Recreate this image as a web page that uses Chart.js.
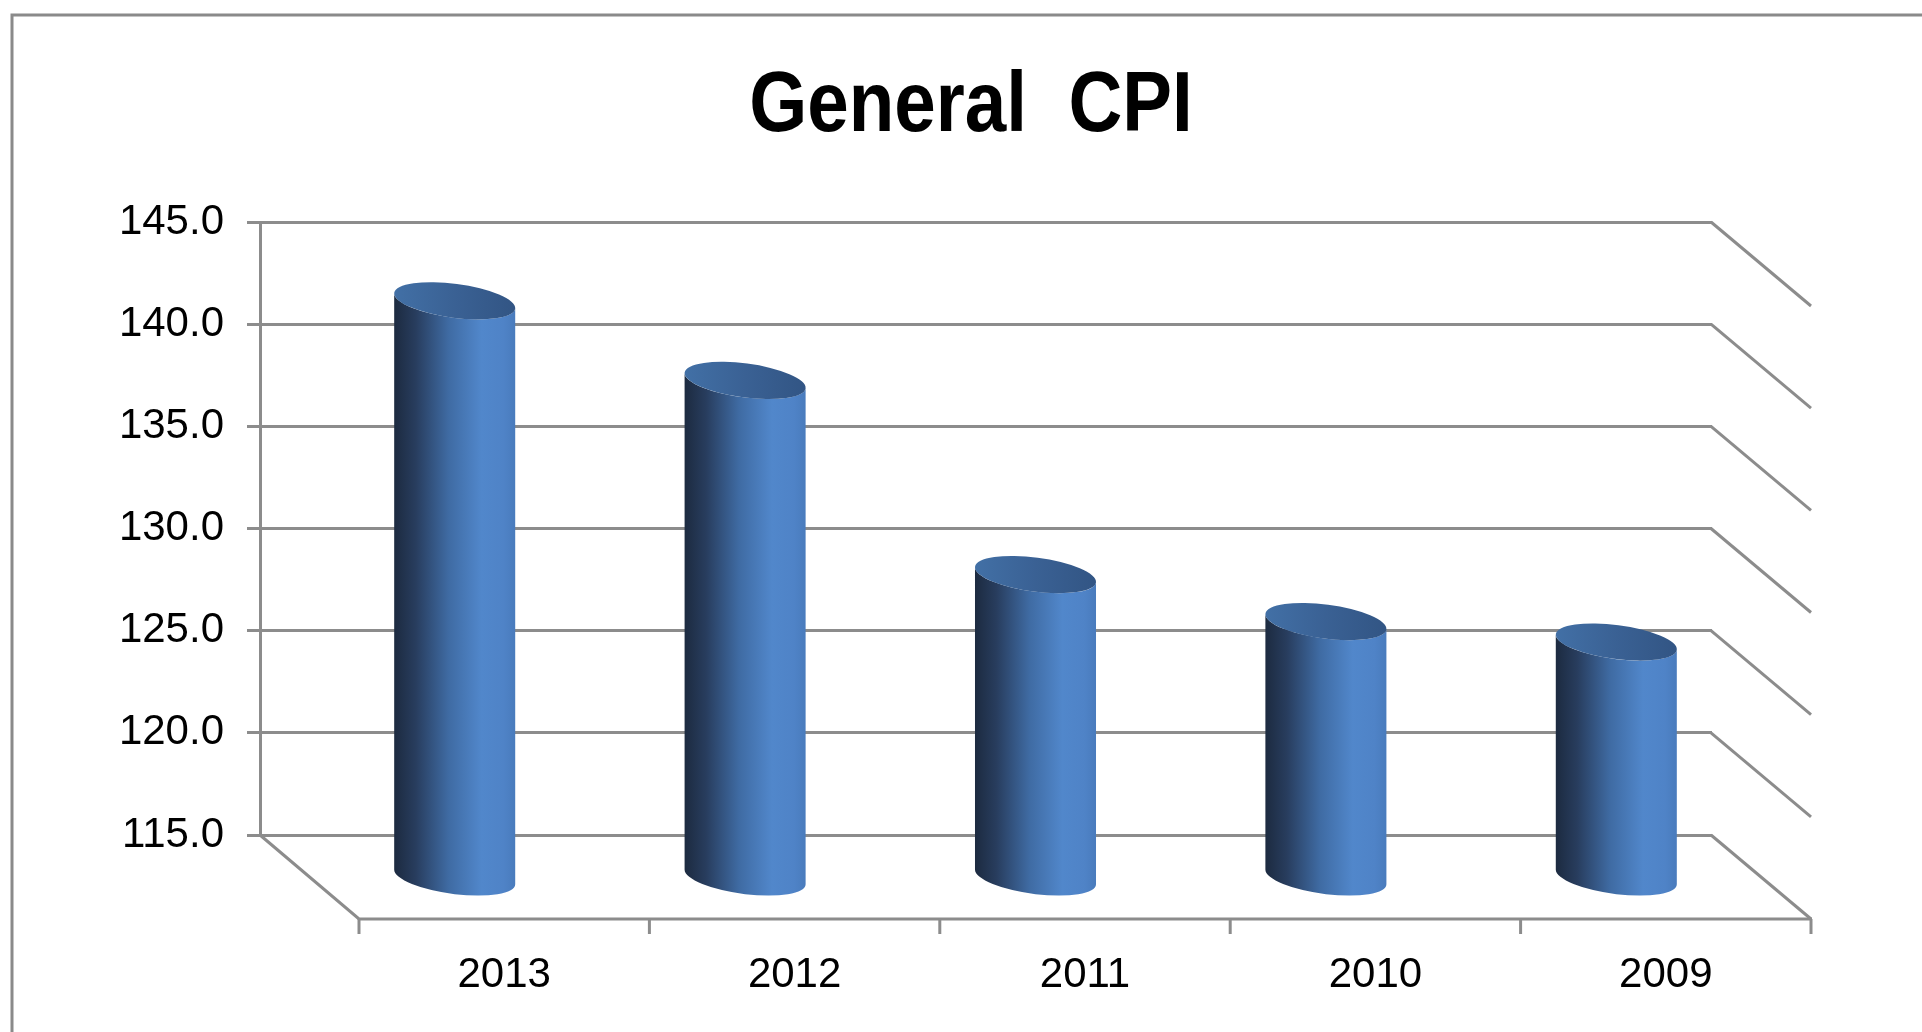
<!DOCTYPE html>
<html>
<head>
<meta charset="utf-8">
<title>General CPI</title>
<script src="https://cdn.jsdelivr.net/npm/chart.js@4.4.1/dist/chart.umd.min.js"></script>
<style>
  html, body { margin: 0; padding: 0; background: #fff; }
  #wrap { width: 1922px; height: 1032px; position: relative; }
</style>
</head>
<body>
<div id="wrap"><canvas id="cpiChart"></canvas></div>
<script>
// data
var years = ['2013', '2012', '2011', '2010', '2009'];
var cpiValues = [143.2, 139.3, 129.8, 127.5, 126.5];
var axisMin = 115;
var axisMax = 145;
var axisStep = 5;
var chartTitle = 'General  CPI';

// oblique depth of the 3-D box
var depthX = 99;
var depthY = 84;
var lineGrey = '#8c8c8c';

var pagePlugin = {
    id: 'pageDecor',
    beforeDraw: function(chart) {
        var ctx = chart.ctx;
        ctx.save();
        ctx.fillStyle = '#ffffff';
        ctx.fillRect(0, 0, chart.width, chart.height);
        // outer frame (top and left visible)
        ctx.strokeStyle = '#8a8a8a';
        ctx.lineWidth = 3;
        ctx.beginPath();
        ctx.moveTo(12, chart.height + 5);
        ctx.lineTo(12, 15);
        ctx.lineTo(chart.width + 5, 15);
        ctx.stroke();
        // title
        ctx.translate(971, 131);
        ctx.scale(0.867, 1);
        ctx.fillStyle = '#000';
        ctx.font = 'bold 86px "Liberation Sans", Arial, sans-serif';
        ctx.textAlign = 'center';
        ctx.textBaseline = 'alphabetic';
        ctx.fillText(chartTitle, 0, 0);
        ctx.restore();
    }
};

var boxPlugin = {
    id: 'box3d',
    beforeDatasetsDraw: function(chart) {
        var ctx = chart.ctx;
        var a = chart.chartArea;
        var x = chart.scales.x;
        var y = chart.scales.y;
        ctx.save();
        ctx.strokeStyle = lineGrey;
        ctx.lineWidth = 3;
        // side wall lines
        y.ticks.forEach(function(t) {
            var py = y.getPixelForValue(t.value);
            ctx.beginPath();
            ctx.moveTo(a.right - 1, py);
            ctx.lineTo(a.right + depthX, py + depthY);
            ctx.stroke();
        });
        // floor left edge and front edge
        ctx.beginPath();
        ctx.moveTo(a.left, a.bottom);
        ctx.lineTo(a.left + depthX, a.bottom + depthY);
        ctx.lineTo(a.right + depthX + 1, a.bottom + depthY);
        ctx.stroke();
        // category ticks on the front edge
        var step = x.getPixelForValue(1) - x.getPixelForValue(0);
        for (var i = 0; i <= years.length; i++) {
            var bx = x.getPixelForValue(0) - step / 2 + i * step + depthX;
            ctx.beginPath();
            ctx.moveTo(bx, a.bottom + depthY);
            ctx.lineTo(bx, a.bottom + depthY + 15);
            ctx.stroke();
        }
        ctx.restore();
    },
    afterDatasetsDraw: function(chart) {
        var ctx = chart.ctx;
        var x = chart.scales.x;
        var y = chart.scales.y;
        var step = x.getPixelForValue(1) - x.getPixelForValue(0);
        var rx = step * 0.21;
        var ry = 17;
        var rot = 0.13;
        var eps = Math.atan(-(ry / rx) * Math.tan(rot));
        function edge(cx, cy, t) {
            return [cx + rx * Math.cos(t) * Math.cos(rot) - ry * Math.sin(t) * Math.sin(rot),
                    cy + rx * Math.cos(t) * Math.sin(rot) + ry * Math.sin(t) * Math.cos(rot)];
        }
        cpiValues.forEach(function(v, i) {
            var cx = x.getPixelForValue(i) + depthX / 2;
            var topY = y.getPixelForValue(v) + depthY / 2;
            var botY = y.getPixelForValue(axisMin) + depthY / 2;
            var lt = edge(cx, topY, Math.PI + eps);
            var lb = edge(cx, botY, Math.PI + eps);
            var rt = edge(cx, topY, eps);

            ctx.save();
            var g = ctx.createLinearGradient(cx - rx, 0, cx + rx, 0);
            g.addColorStop(0, '#1c2a3f');
            g.addColorStop(0.18, '#283d5e');
            g.addColorStop(0.45, '#3f6ba3');
            g.addColorStop(0.72, '#5187cb');
            g.addColorStop(0.9, '#4f83c7');
            g.addColorStop(1, '#497bbc');
            ctx.fillStyle = g;
            ctx.beginPath();
            ctx.moveTo(lt[0], lt[1]);
            ctx.lineTo(lb[0], lb[1]);
            ctx.ellipse(cx, botY, rx, ry, rot, Math.PI + eps, eps, true);
            ctx.lineTo(rt[0], rt[1]);
            ctx.ellipse(cx, topY, rx, ry, rot, eps, Math.PI + eps, false);
            ctx.closePath();
            ctx.fill();

            var gt = ctx.createLinearGradient(cx - rx, 0, cx + rx, 0);
            gt.addColorStop(0, '#4270a6');
            gt.addColorStop(0.5, '#3a6194');
            gt.addColorStop(1, '#325584');
            ctx.fillStyle = gt;
            ctx.beginPath();
            ctx.ellipse(cx, topY, rx, ry, rot, 0, Math.PI * 2);
            ctx.fill();
            ctx.restore();
        });
    }
};

var ctx = document.getElementById('cpiChart').getContext('2d');
var cpiChart = new Chart(ctx, {
    type: 'bar',
    data: {
        labels: years,
        datasets: [{
            label: 'General CPI',
            data: cpiValues,
            backgroundColor: 'rgba(0,0,0,0)',
            borderWidth: 0
        }]
    },
    options: {
        responsive: true,
        maintainAspectRatio: false,
        animation: false,
        devicePixelRatio: 1,
        layout: {
            padding: { left: 60, right: 210, top: 222, bottom: 17 }
        },
        plugins: {
            legend: { display: false },
            title: { display: false },
            tooltip: { enabled: false }
        },
        scales: {
            x: {
                grid: { display: false, drawTicks: false },
                border: { display: false },
                ticks: {
                    color: '#000',
                    font: { family: '"Liberation Sans", Arial, sans-serif', size: 42 },
                    padding: 115,
                    labelOffset: depthX,
                    maxRotation: 0,
                    autoSkip: false
                },
                afterFit: function(scale) { scale.height = 180; }
            },
            y: {
                min: axisMin,
                max: axisMax,
                grid: { color: lineGrey, lineWidth: 3, tickLength: 13 },
                border: { display: true, color: lineGrey, width: 3 },
                ticks: {
                    stepSize: axisStep,
                    color: '#000',
                    padding: 23,
                    font: { family: '"Liberation Sans", Arial, sans-serif', size: 42 },
                    callback: function(value) { return value.toFixed(1); }
                },
                afterFit: function(scale) { scale.width = 200; }
            }
        }
    },
    plugins: [pagePlugin, boxPlugin]
});
</script>
</body>
</html>
